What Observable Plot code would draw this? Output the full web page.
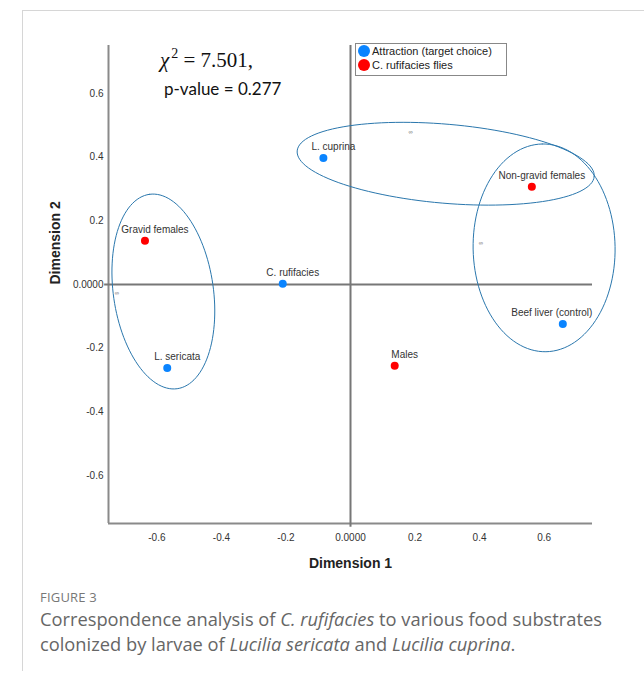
<!DOCTYPE html>
<html>
<head>
<meta charset="utf-8">
<script src="https://cdn.jsdelivr.net/npm/d3@7"></script>
<script src="https://cdn.jsdelivr.net/npm/@observablehq/plot@0.6"></script>
<style>
  html, body { margin: 0; padding: 0; background: #fff; }
  #wrap { position: relative; width: 644px; height: 677px; overflow: hidden; }
  #frame { position: absolute; left: 22px; top: 10px; width: 640px; height: 660px;
           border-left: 1px solid #d6d6d6; border-top: 1px solid #d6d6d6; }
  #chart { position: absolute; left: 0; top: 0; }
  #stat1 { position: absolute; left: 160px; top: 48px; font-family: "Liberation Serif", "DejaVu Serif", serif;
           font-size: 21px; color: #111; white-space: nowrap; }
  #stat1 i { font-style: italic; }
  #stat1 sup { font-size: 14px; vertical-align: 9px; line-height: 0; margin-left: 2px; }
  #stat2 { position: absolute; left: 164px; top: 78px; font-family: Lato, "Open Sans", sans-serif;
           font-size: 17px; color: #111; white-space: nowrap; }
  #legend { position: absolute; left: 355px; top: 43px; width: 150px; height: 31px;
            border: 1px solid #888; background: #fff; font-family: "Liberation Sans", Arial, sans-serif;
            font-size: 11px; color: #222; }
  #legend .row { position: absolute; left: 2px; display: flex; align-items: center; white-space: nowrap; }
  #legend .sw { width: 12px; height: 12px; border-radius: 50%; margin-right: 2px; }
  #fig { position: absolute; left: 40px; top: 588px; font-family: "Open Sans", Lato, sans-serif;
         font-size: 13px; color: #777; letter-spacing: 0.2px; }
  #cap { position: absolute; left: 40px; top: 606px; width: 604px; font-family: "Open Sans", Lato, sans-serif;
         font-size: 18.3px; line-height: 25px; color: #666; white-space: nowrap; }
</style>
</head>
<body>
<div id="wrap">
  <div id="frame"></div>
  <div id="chart"></div>
  <div id="stat1"><i>χ</i><sup>2</sup> = 7.501,</div>
  <div id="stat2">p-value = 0.277</div>
  <div id="legend"></div>
  <div id="fig">FIGURE 3</div>
  <div id="cap">Correspondence analysis of <i>C. rufifacies</i> to various food substrates<br>colonized by larvae of <i>Lucilia sericata</i> and <i>Lucilia cuprina</i>.</div>
</div>
<script>
// ---- data ----
const seriesNames = ["Attraction (target choice)", "C. rufifacies flies"];
const seriesColors = ["#0a84ff", "#ff0000"];

const attractionLabels = ["L. cuprina", "C. rufifacies", "L. sericata", "Beef liver (control)"];
const attractionDim1 = [-0.084, -0.21, -0.568, 0.658];
const attractionDim2 = [0.397, 0.002, -0.262, -0.124];

const fliesLabels = ["Gravid females", "Non-gravid females", "Males"];
const fliesDim1 = [-0.637, 0.562, 0.137];
const fliesDim2 = [0.137, 0.307, -0.255];

// group ellipses: center, semi-axes (data units), rotation of first axis (degrees)
const ellipseCx = [-0.58, 0.295, 0.6];
const ellipseCy = [-0.022, 0.379, 0.115];
const ellipseA = [0.308, 0.462, 0.326];
const ellipseB = [0.155, 0.124, 0.22];
const ellipseAngle = [98, -5, 91];

// small centroid marks
const markDim1 = [-0.724, 0.186, 0.404];
const markDim2 = [-0.028, 0.478, 0.13];

const xTicks = [-0.6, -0.4, -0.2, 0, 0.2, 0.4, 0.6];
const yTicks = [-0.6, -0.4, -0.2, 0, 0.2, 0.4, 0.6];
const axisMin = -0.75, axisMax = 0.75;

// ---- build tables ----
const points = [
  ...attractionLabels.map((label, i) => ({label, d1: attractionDim1[i], d2: attractionDim2[i], s: 0})),
  ...fliesLabels.map((label, i) => ({label, d1: fliesDim1[i], d2: fliesDim2[i], s: 1}))
];
const ellipsePts = [];
ellipseCx.forEach((cx, k) => {
  const th = ellipseAngle[k] * Math.PI / 180;
  for (let j = 0; j <= 120; j++) {
    const t = j / 120 * 2 * Math.PI;
    const u = ellipseA[k] * Math.cos(t), v = ellipseB[k] * Math.sin(t);
    ellipsePts.push({k, x: cx + u * Math.cos(th) - v * Math.sin(th), y: ellipseCy[k] + u * Math.sin(th) + v * Math.cos(th)});
  }
});
const marks = markDim1.map((x, i) => ({x, y: markDim2[i]}));
const fmt = d => d === 0 ? "0.0000" : d3.format(".1f")(d).replace("−", "-");

const font = "Liberation Sans, Arial, sans-serif";
const chart = Plot.plot({
  width: 644,
  height: 580,
  marginLeft: 108,
  marginRight: 52,
  marginTop: 45,
  marginBottom: 57,
  style: {fontFamily: font, background: "transparent", overflow: "visible"},
  x: {domain: [axisMin, axisMax], ticks: xTicks, tickFormat: fmt, label: null},
  y: {domain: [axisMin, axisMax], ticks: yTicks, tickFormat: fmt, label: null},
  marks: [
    Plot.ruleX([axisMin], {stroke: "#8a8a8a", strokeWidth: 2}),
    Plot.ruleY([axisMin], {stroke: "#8a8a8a", strokeWidth: 2}),
    Plot.ruleX([0], {y1: -0.762, y2: axisMax, stroke: "#777", strokeWidth: 2}),
    Plot.ruleY([0], {x1: -0.762, x2: axisMax, stroke: "#777", strokeWidth: 2}),
    Plot.axisX({ticks: xTicks, tickFormat: fmt, tickSize: 0, tickPadding: 10, fontSize: 10, fill: "#333", label: null}),
    Plot.axisY({ticks: yTicks, tickFormat: fmt, tickSize: 0, tickPadding: 5, fontSize: 10, fill: "#333", label: null}),
    Plot.line(ellipsePts, {x: "x", y: "y", z: "k", stroke: "#2a77ad", strokeWidth: 1, curve: "linear"}),
    Plot.text(marks, {x: "x", y: "y", text: () => "∞", fontSize: 6, fill: "#666"}),
    Plot.dot(points, {x: "d1", y: "d2", r: 4, fill: d => seriesColors[d.s], stroke: "none"}),
    Plot.text(points.filter(d => d.label !== "Beef liver (control)"), {x: "d1", y: "d2", text: "label", dx: 10, dy: -11, fontSize: 10, fill: "#333"}),
    Plot.text(points.filter(d => d.label === "Beef liver (control)"), {x: "d1", y: "d2", text: "label", dx: -11, dy: -11, fontSize: 10, fill: "#333"}),
    Plot.text(["Dimension 1"], {frameAnchor: "bottom", dy: 44, text: d => d, fontSize: 14, fontWeight: "bold", fill: "#222"}),
    Plot.text(["Dimension 2"], {frameAnchor: "left", dx: -53, rotate: -90, text: d => d, fontSize: 14, fontWeight: "bold", fill: "#222"})
  ]
});
document.getElementById("chart").appendChild(chart);

// legend
const lg = document.getElementById("legend");
seriesNames.forEach((name, i) => {
  const row = document.createElement("div");
  row.className = "row";
  row.style.top = (1 + i * 14) + "px";
  row.innerHTML = `<span class="sw" style="background:${seriesColors[i]}"></span><span>${name}</span>`;
  lg.appendChild(row);
});
</script>
</body>
</html>
